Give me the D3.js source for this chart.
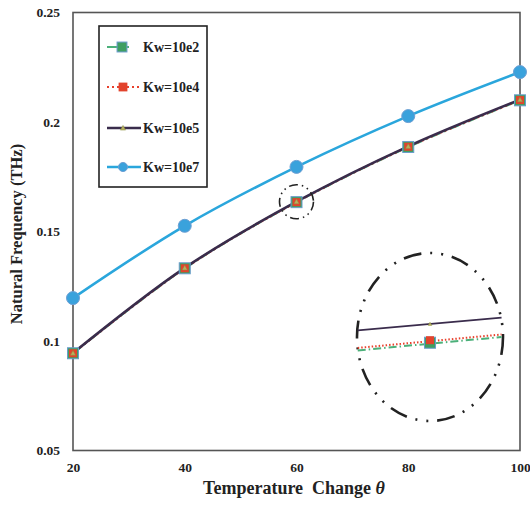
<!DOCTYPE html>
<html><head><meta charset="utf-8">
<script src="https://cdn.jsdelivr.net/npm/d3@7/dist/d3.min.js"></script>
<style>body{margin:0;background:#fff}</style>
</head><body><svg id="c" width="530" height="505"></svg>
<script>
const temps = [20, 40, 60, 80, 100];
const kw10e2 = [0.0944, 0.1332, 0.1634, 0.1886, 0.2099];
const kw10e4 = [0.0944, 0.1332, 0.1634, 0.1887, 0.2100];
const kw10e5 = [0.0945, 0.1334, 0.1636, 0.1889, 0.2102];
const kw10e7 = [0.1196, 0.1526, 0.1795, 0.2027, 0.2228];
const xTicks = [20, 40, 60, 80, 100];
const yTicks = [0.05, 0.1, 0.15, 0.2, 0.25];
const seriesNames = ["Kw=10e2", "Kw=10e4", "Kw=10e5", "Kw=10e7"];
// inset (magnified view) line ends, normalized to the inset ellipse
const insetNames = ["Kw=10e2", "Kw=10e4", "Kw=10e5"];
const insetLeft = [0.16, 0.13, -0.08];
const insetRight = [0.0, -0.03, -0.23];

const svg = d3.select("#c");
const L = 73, R = 520, T = 12.5, B = 450.5;
const x = d3.scaleLinear().domain([20, 100]).range([L, R]);
const y = d3.scaleLinear().domain([0.05, 0.25]).range([B, T]);

const styles = {
  "Kw=10e2": {color: "#4cb07a", dash: "10,4,2,4", width: 2.2, marker: "sq"},
  "Kw=10e4": {color: "#e8402c", dash: "2,3", width: 2.2, marker: "sqr"},
  "Kw=10e5": {color: "#3a2c4c", dash: null, width: 2.6, marker: "tri"},
  "Kw=10e7": {color: "#2aa6dc", dash: null, width: 2.6, marker: "circ"}
};
const data = {"Kw=10e2": kw10e2, "Kw=10e4": kw10e4, "Kw=10e5": kw10e5, "Kw=10e7": kw10e7};

// frame
svg.append("rect").attr("x", L).attr("y", T).attr("width", R - L).attr("height", B - T)
  .attr("fill", "none").attr("stroke", "#555").attr("stroke-width", 1.6);

// axes (labels only)
const xa = svg.append("g").attr("transform", `translate(0,${B})`)
  .call(d3.axisBottom(x).tickValues(xTicks).tickSize(0).tickPadding(12).tickFormat(d3.format("d")));
const ya = svg.append("g").attr("transform", `translate(${L},0)`)
  .call(d3.axisLeft(y).tickValues(yTicks).tickSize(0).tickPadding(13).tickFormat(d => String(+d.toFixed(2))));
[xa, ya].forEach(g => {
  g.select(".domain").remove();
  g.selectAll("text").attr("font-family", "Liberation Serif").attr("font-weight", "bold")
    .attr("font-size", 13.5).attr("fill", "#222");
});
xa.selectAll("text").attr("dy", "0.71em");

// titles
const xt = svg.append("text").attr("x", 294).attr("y", 494).attr("text-anchor", "middle")
  .attr("font-family", "Liberation Serif").attr("font-weight", "bold").attr("font-size", 18).attr("fill", "#222");
xt.append("tspan").text("Temperature\u00A0 Change ");
xt.append("tspan").attr("font-style", "italic").text("θ");
svg.append("text").attr("transform", "translate(22,234) rotate(-90)").attr("text-anchor", "middle")
  .attr("font-family", "Liberation Serif").attr("font-weight", "bold").attr("font-size", 16.5).attr("fill", "#222")
  .text("Natural Frequency (THz)");

const line = d3.line().x((d, i) => x(temps[i])).y(d => y(d)).curve(d3.curveCatmullRom.alpha(0.5));

function drawMarker(g, type, cx, cy, scale) {
  scale = scale || 1;
  if (type === "sq") {
    g.append("rect").attr("x", cx - 5.5 * scale).attr("y", cy - 5.5 * scale).attr("width", 11 * scale).attr("height", 11 * scale)
      .attr("fill", "#3f9f62").attr("stroke", "#6a9ccc").attr("stroke-width", 1);
  } else if (type === "sqr") {
    g.append("rect").attr("x", cx - 4 * scale).attr("y", cy - 4 * scale).attr("width", 8 * scale).attr("height", 8 * scale)
      .attr("fill", "#e2432c");
  } else if (type === "tri") {
    const s = 2.6 * scale;
    g.append("path").attr("d", `M${cx},${cy - s}L${cx + s},${cy + s * 0.8}L${cx - s},${cy + s * 0.8}Z`)
      .attr("fill", "#b8b060").attr("stroke", "#8a9040").attr("stroke-width", 0.5);
  } else if (type === "circ") {
    g.append("circle").attr("cx", cx).attr("cy", cy).attr("r", 6.5 * scale)
      .attr("fill", "#3aa2dc").attr("stroke", "#6d9fd4").attr("stroke-width", 1);
  }
}

const plot = svg.append("g");
seriesNames.forEach(n => {
  const s = styles[n];
  plot.append("path").datum(data[n]).attr("d", line).attr("fill", "none")
    .attr("stroke", s.color).attr("stroke-width", s.width).attr("stroke-dasharray", s.dash);
});
seriesNames.forEach(n => {
  const s = styles[n];
  data[n].forEach((v, i) => drawMarker(plot, s.marker, x(temps[i]), y(v)));
});

// small dash-dot circle around 60 point
svg.append("circle").attr("cx", x(60)).attr("cy", y(kw10e5[2])).attr("r", 17)
  .attr("fill", "none").attr("stroke", "#222").attr("stroke-width", 1.6)
  .attr("stroke-dasharray", "9,4,1.5,4,1.5,4");

// inset magnified ellipse
const icx = 430, icy = 337, irx = 73, iry = 84;
const ig = svg.append("g");
ig.append("ellipse").attr("cx", icx).attr("cy", icy).attr("rx", irx).attr("ry", iry)
  .attr("fill", "none").attr("stroke", "#222").attr("stroke-width", 2.6)
  .attr("stroke-dasharray", "18,9,2,9,2,9");
insetNames.forEach((n, k) => {
  const s = styles[n];
  ig.append("line").attr("x1", icx - irx * 0.99).attr("x2", icx + irx * 0.98)
    .attr("y1", icy + iry * insetLeft[k]).attr("y2", icy + iry * insetRight[k])
    .attr("stroke", s.color).attr("stroke-width", n === "Kw=10e5" ? 1.8 : 2)
    .attr("stroke-dasharray", n === "Kw=10e2" ? "8,3,1.5,3" : (n === "Kw=10e4" ? "1.5,2" : null));
});
drawMarker(ig, "sq", icx, icy + iry * (insetLeft[0] + insetRight[0]) / 2 - 1);
drawMarker(ig, "sqr", icx, icy + iry * (insetLeft[1] + insetRight[1]) / 2 - 1);
drawMarker(ig, "tri", icx, icy + iry * (insetLeft[2] + insetRight[2]) / 2, 0.7);

// legend
const lg = svg.append("g");
lg.append("rect").attr("x", 99).attr("y", 26).attr("width", 108).attr("height", 161)
  .attr("fill", "#fff").attr("stroke", "#222").attr("stroke-width", 1.6);
const ly = [47, 87, 128, 167];
seriesNames.forEach((n, i) => {
  const s = styles[n];
  lg.append("line").attr("x1", 107).attr("x2", 141).attr("y1", ly[i]).attr("y2", ly[i])
    .attr("stroke", s.color).attr("stroke-width", s.width).attr("stroke-dasharray", n === "Kw=10e2" ? "14,6,2,20" : s.dash);
  if (n === "Kw=10e4") drawMarker(lg, "sqr", 123, ly[i], 1.1);
  else if (n === "Kw=10e2") drawMarker(lg, "sq", 122, ly[i], 0.9);
  else drawMarker(lg, s.marker, 123, ly[i], n === "Kw=10e7" ? 0.7 : 1);
  lg.append("text").attr("x", 143).attr("y", ly[i]).attr("dy", "0.35em")
    .attr("font-family", "Liberation Serif").attr("font-weight", "bold").attr("font-size", 14).attr("fill", "#222")
    .text(n);
});
</script></body></html>
